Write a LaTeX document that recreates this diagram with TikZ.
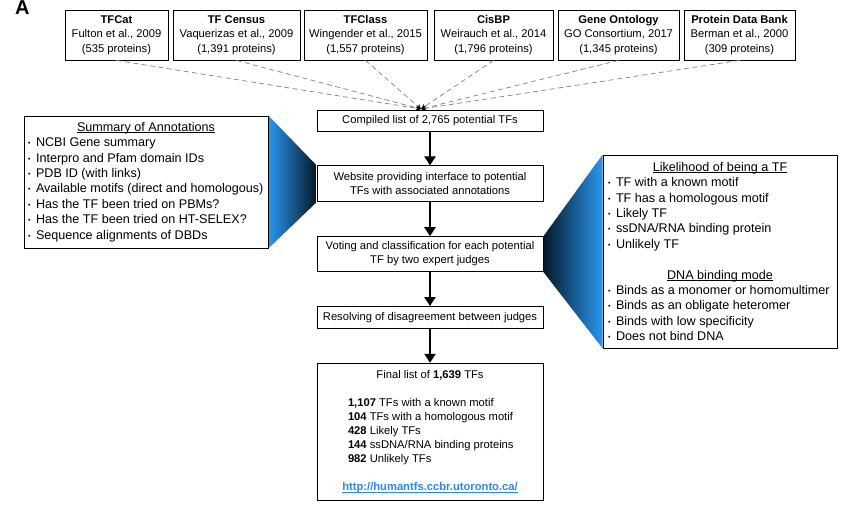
\documentclass[tikz,border=0pt]{standalone}
\usepackage{fontspec}
\setmainfont{Liberation Sans}
\usetikzlibrary{arrows.meta,positioning,backgrounds}
\definecolor{skyblue}{RGB}{42,150,236}
\definecolor{deepnavy}{RGB}{4,24,42}
\definecolor{linkblue}{RGB}{45,135,230}
\definecolor{dashgray}{RGB}{128,128,128}
\newlength{\listw}
\tikzset{
  srcbox/.style={draw=black,line width=0.8pt,minimum width=#1,minimum height=50,
    inner sep=0pt,align=center,font=\fontsize{11.2}{14.5}\selectfont},
  stage/.style={draw=black,line width=0.8pt,minimum width=226,minimum height=#1,
    inner sep=0pt,align=center,font=\fontsize{11.2}{14}\selectfont},
  sidebox/.style={draw=black,line width=0.8pt,inner sep=0pt,align=center,
    font=\fontsize{12.6}{15.4}\selectfont},
  list width/.code={\setlength{\listw}{#1}},
  mainflow/.style={line width=2.6pt,-{Triangle[width=11pt,length=9pt]}},
  feed/.style={dashgray,line width=0.7pt,dash pattern=on 5pt off 3.5pt,
    -{Stealth[length=5pt,width=5pt,color=black]}},
  panel/.style={font=\fontsize{20}{20}\selectfont\bfseries,anchor=base west,inner sep=0pt},
}
\newcommand{\comma}{,}
\newcommand{\bul}{\makebox[8pt][l]{\raisebox{1pt}{\scriptsize\textbullet}}}
\newcommand{\entry}[1]{\makebox[\listw][l]{\bul#1}}
\newcommand{\fig}[1]{\makebox[\listw][l]{#1}}
\newcommand{\hd}[1]{\setbox0\hbox{#1}\rlap{\rule[-1.6pt]{\wd0}{0.6pt}}\box0}

\begin{document}
\begin{tikzpicture}[x=1pt,y=-1pt,node distance=34pt]
  \useasboundingbox (0,0) rectangle (850,508);
  \node[panel] (tag) at (15,15) {A};
  \coordinate (hub) at (421,109);

  % sources
  \foreach \t/\r/\n/\x/\w [count=\i] in {
    TFCat/Fulton et al.\comma{} 2009/535/116.5/103,
    TF Census/Vaquerizas et al.\comma{} 2009/1\comma391/236.5/127,
    TFClass/Wingender et al.\comma{} 2015/1\comma557/365.5/123,
    CisBP/Weirauch et al.\comma{} 2014/1\comma796/493.5/119,
    Gene Ontology/GO Consortium\comma{} 2017/1\comma345/618.5/121,
    Protein Data Bank/Berman et al.\comma{} 2000/309/739.5/111}
  {
    \node[srcbox=\w] (src\i) at (\x,35) {\textbf{\t}\\\r\\(\n{} proteins)};
    \draw[feed] (src\i.south) -- (hub);
  }

  % pipeline
  \node[stage=21] (compiled) at (430,120.5) {Compiled list of 2,765 potential TFs};
  \node[stage=36,below=of compiled] (web) {Website providing interface to potential\\TFs with associated annotations};
  \node[stage=35,below=of web] (vote) {Voting and classification for each potential\\TF by two expert judges};
  \node[stage=22,below=of vote] (resolve) {Resolving of disagreement between judges};
  \node[stage=137,list width=164pt,below=of resolve] (final) {
    Final list of \textbf{1,639} TFs\\[14pt]
    \fig{\textbf{1,107} TFs with a known motif}\\
    \fig{\textbf{104} TFs with a homologous motif}\\
    \fig{\textbf{428} Likely TFs}\\
    \fig{\textbf{144} ssDNA/RNA binding proteins}\\
    \fig{\textbf{982} Unlikely TFs}\\[14pt]
    {\color{linkblue}\bfseries\hd{http://humantfs.ccbr.utoronto.ca/}}};
  \draw[mainflow] (compiled) -- (web);
  \draw[mainflow] (web) -- (vote);
  \draw[mainflow] (vote) -- (resolve);
  \draw[mainflow] (resolve) -- (final);

  % side panels
  \node[sidebox,list width=236pt,minimum width=244,minimum height=132] (annot) at (146,182) {
    \hd{Summary of Annotations}\\
    \entry{NCBI Gene summary}\\
    \entry{Interpro and Pfam domain IDs}\\
    \entry{PDB ID (with links)}\\
    \entry{Available motifs (direct and homologous)}\\
    \entry{Has the TF been tried on PBMs?}\\
    \entry{Has the TF been tried on HT-SELEX?}\\
    \entry{Sequence alignments of DBDs}};
  \node[sidebox,list width=224pt,minimum width=234,minimum height=193] (traits) at (720,251.5) {
    \hd{Likelihood of being a TF}\\
    \entry{TF with a known motif}\\
    \entry{TF has a homologous motif}\\
    \entry{Likely TF}\\
    \entry{ssDNA/RNA binding protein}\\
    \entry{Unlikely TF}\\[15.4pt]
    \hd{DNA binding mode}\\
    \entry{Binds as a monomer or homomultimer}\\
    \entry{Binds as an obligate heteromer}\\
    \entry{Binds with low specificity}\\
    \entry{Does not bind DNA}};

  \begin{scope}[on background layer]
    \shade[left color=skyblue,right color=deepnavy]
      (annot.north east) -- (web.north west) -- (web.south west) -- (annot.south east) -- cycle;
    \shade[left color=deepnavy,right color=skyblue]
      (vote.north east) -- (traits.north west) -- (traits.south west) -- (vote.south east) -- cycle;
  \end{scope}
\end{tikzpicture}
\end{document}
